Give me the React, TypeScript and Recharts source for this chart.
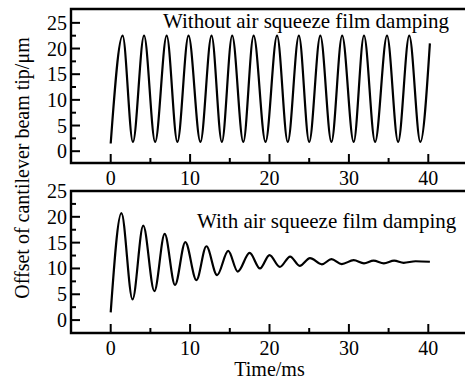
import { LineChart, Line, XAxis, YAxis, ReferenceArea, Label } from "recharts";

const FONT = '"Liberation Serif", "Times New Roman", serif';

// without damping: start point, then peak / trough pairs, then end point
const undampedTime = [
  0, 1.5, 2.8, 4.2, 5.6, 7.05, 8.4, 9.8, 11.3, 12.7, 14.0, 15.3, 16.7, 18.0, 19.5,
  20.95, 22.3, 23.7, 25.0, 26.4, 27.8, 29.15, 30.6, 31.9, 33.3, 34.8, 36.2, 37.6, 39.0, 40.2,
];
const undampedOffset = [
  1.5, 22.5, 1.8, 22.5, 1.8, 22.5, 1.8, 22.5, 1.8, 22.5, 1.8, 22.5, 1.8, 22.5, 1.8,
  22.5, 1.8, 22.5, 1.8, 22.5, 1.8, 22.5, 1.8, 22.5, 1.8, 22.5, 1.8, 22.5, 1.8, 21.0,
];

// with damping
const dampedTime = [
  0, 1.35, 2.75, 4.1, 5.5, 6.8, 8.1, 9.4, 10.8, 12.05, 13.4, 14.8, 16.0, 17.5, 18.8,
  20.0, 21.3, 22.6, 23.8, 25.1, 26.6, 27.8, 29.1, 30.6, 31.9, 33.1, 34.4, 35.7, 36.9, 38.4, 40.2,
];
const dampedOffset = [
  1.5, 20.7, 4.0, 18.3, 5.6, 16.7, 6.8, 15.1, 7.75, 14.3, 8.7, 13.4, 9.4, 13.0, 10.0,
  12.6, 10.3, 12.3, 10.5, 12.0, 10.8, 11.8, 10.85, 11.6, 11.0, 11.5, 11.0, 11.5, 11.1, 11.4, 11.3,
];

const xTicks = [0, 5, 10, 15, 20, 25, 30, 35, 40];
const yTicksTop = [0, 2.5, 5, 7.5, 10, 12.5, 15, 17.5, 20, 22.5, 25];
const yTicksBottom = [0, 2.5, 5, 7.5, 10, 12.5, 15, 17.5, 20, 22.5, 25];

const topData = undampedTime.map((t, i) => ({ t, v: undampedOffset[i] }));
const bottomData = dampedTime.map((t, i) => ({ t, v: dampedOffset[i] }));

const XTick = (props: any) => {
  const { x, y, payload } = props;
  const v = payload.value;
  const major = v % 10 === 0;
  return (
    <g>
      <line x1={x} y1={y} x2={x} y2={y - (major ? 9 : 5)} stroke="#000" strokeWidth={2} />
      {major && (
        <text x={x} y={y + 22} textAnchor="middle" fontSize={20} fontFamily={FONT} fill="#000">
          {v}
        </text>
      )}
    </g>
  );
};

const YTick = (props: any) => {
  const { x, y, payload } = props;
  const v = payload.value;
  const major = v % 5 === 0;
  return (
    <g>
      <line x1={x} y1={y} x2={x + (major ? 9 : 5)} y2={y} stroke="#000" strokeWidth={2} />
      {major && (
        <text x={x - 4} y={y} dy="0.35em" textAnchor="end" fontSize={20} fontFamily={FONT} fill="#000">
          {v}
        </text>
      )}
    </g>
  );
};

const App = () => {
  return (
    <div style={{ position: "absolute", left: 0, top: 0, width: 465, height: 379, background: "#fff", overflow: "hidden" }}>
      <div style={{ position: "absolute", left: 0, top: 0 }}>
        <LineChart width={468} height={190} data={topData} margin={{ top: 9, right: 0, bottom: 0, left: 0 }}>
          <XAxis
            dataKey="t"
            type="number"
            domain={[-5, 45]}
            ticks={xTicks}
            interval={0}
            height={27}
            axisLine={false}
            tickLine={false}
            tickSize={0}
            tickMargin={0}
            tick={<XTick />}
          />
          <YAxis
            type="number"
            domain={[-2.3, 27.7]}
            ticks={yTicksTop}
            interval={0}
            width={71}
            axisLine={false}
            tickLine={false}
            tickSize={0}
            tickMargin={0}
            tick={<YTick />}
          />
          <ReferenceArea x1={-5} x2={45} y1={-2.3} y2={27.7} fill="none" stroke="#000" strokeWidth={2.4} />
          <Line dataKey="v" type="monotone" stroke="#000" strokeWidth={2.2} dot={false} isAnimationActive={false} />
        </LineChart>
      </div>
      <div style={{ position: "absolute", left: 0, top: 180 }}>
        <LineChart width={468} height={199} data={bottomData} margin={{ top: 11, right: 0, bottom: 0, left: 0 }}>
          <XAxis
            dataKey="t"
            type="number"
            domain={[-5, 45]}
            ticks={xTicks}
            interval={0}
            height={46}
            axisLine={false}
            tickLine={false}
            tickSize={0}
            tickMargin={0}
            tick={<XTick />}
          >
            <Label
              value="Time/ms"
              position="insideBottom"
              offset={3}
              style={{ fontSize: 20, fontFamily: FONT, fill: "#000" }}
            />
          </XAxis>
          <YAxis
            type="number"
            domain={[-2.5, 25]}
            ticks={yTicksBottom}
            interval={0}
            width={71}
            axisLine={false}
            tickLine={false}
            tickSize={0}
            tickMargin={0}
            tick={<YTick />}
          />
          <ReferenceArea x1={-5} x2={45} y1={-2.5} y2={25} fill="none" stroke="#000" strokeWidth={2.4} />
          <Line dataKey="v" type="monotone" stroke="#000" strokeWidth={2.2} dot={false} isAnimationActive={false} />
        </LineChart>
      </div>
      <svg
        width={465}
        height={379}
        style={{ position: "absolute", left: 0, top: 0, pointerEvents: "none" }}
        fontFamily={FONT}
        fontSize={21}
      >
        <text x={163} y={28} fill="#000">Without air squeeze film damping</text>
        <text x={197} y={228} fill="#000">With air squeeze film damping</text>
        <text transform="translate(29,168) rotate(-90)" textAnchor="middle" fontSize={20} fill="#000">
          Offset of cantilever beam tip/μm
        </text>
      </svg>
    </div>
  );
};

export default App;
